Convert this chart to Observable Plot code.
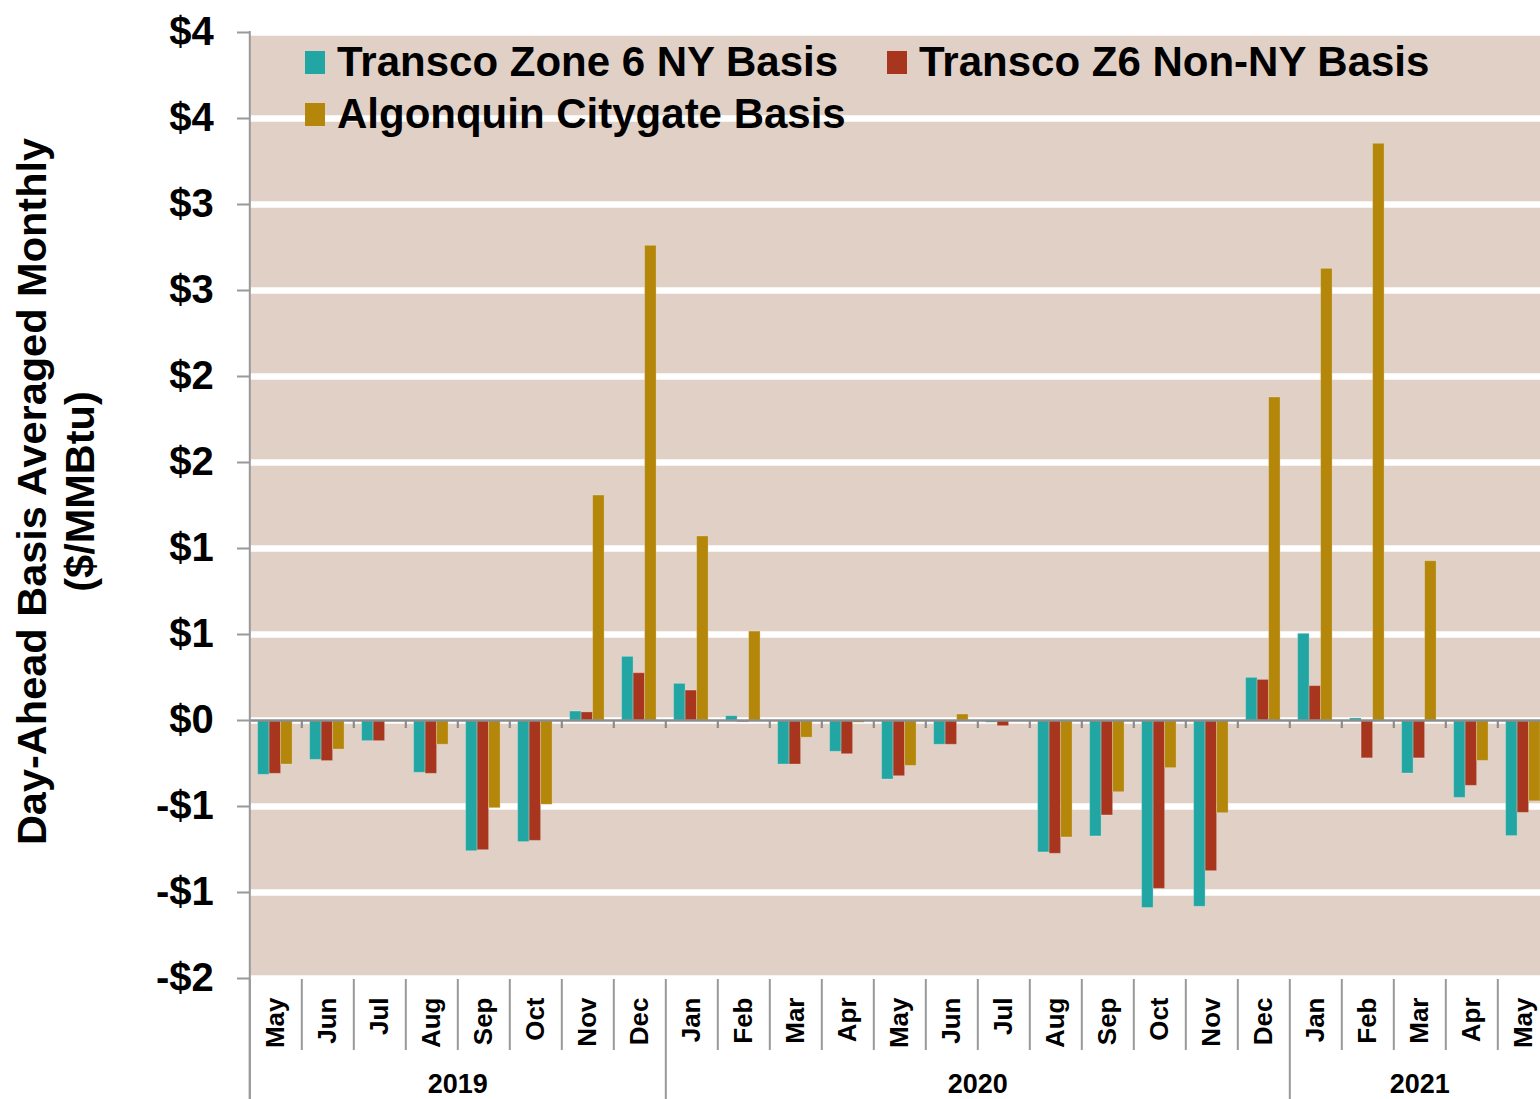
<!DOCTYPE html>
<html><head><meta charset="utf-8">
<script src="https://cdn.jsdelivr.net/npm/d3@7"></script>
<script src="https://cdn.jsdelivr.net/npm/@observablehq/plot@0.6"></script>
<style>
html,body{margin:0;padding:0;background:#fff;overflow:hidden}
#wrap{position:relative;width:1540px;height:1099px}
#wrap svg{overflow:hidden}
.legend{position:absolute;left:305px;top:36px;display:grid;grid-template-columns:582px auto;grid-auto-rows:52px;font-family:"Liberation Sans",Arial,sans-serif;font-weight:bold;font-size:42px;color:#000}
.item{display:flex;align-items:center;white-space:nowrap}
.sw{width:20px;height:23px;margin-right:12px;flex:none}
</style></head><body><div id="wrap"></div>
<script>
const months = ["May","Jun","Jul","Aug","Sep","Oct","Nov","Dec",
  "Jan","Feb","Mar","Apr","May","Jun","Jul","Aug","Sep","Oct","Nov","Dec",
  "Jan","Feb","Mar","Apr","May"];
const monthYears = [2019,2019,2019,2019,2019,2019,2019,2019,
  2020,2020,2020,2020,2020,2020,2020,2020,2020,2020,2020,2020,
  2021,2021,2021,2021,2021];
const seriesNames = ["Transco Zone 6 NY Basis","Transco Z6 Non-NY Basis","Algonquin Citygate Basis"];
const seriesColors = ["#21A6A3","#A8361F","#B4870B"];
const transcoNY = [-0.316,-0.229,-0.12,-0.304,-0.76,-0.707,0.052,0.37,
  0.213,0.025,-0.256,-0.182,-0.343,-0.141,-0.013,-0.767,-0.674,-1.09,-1.083,0.248,
  0.504,0.012,-0.308,-0.45,-0.672];
const transcoNonNY = [-0.31,-0.236,-0.12,-0.31,-0.754,-0.70,0.047,0.275,
  0.174,-0.01,-0.256,-0.196,-0.324,-0.141,-0.033,-0.775,-0.552,-0.979,-0.876,0.236,
  0.20,-0.22,-0.22,-0.38,-0.537];
const algonquin = [-0.256,-0.169,0,-0.141,-0.51,-0.49,1.308,2.76,
  1.07,0.517,-0.10,-0.013,-0.264,0.035,-0.005,-0.68,-0.417,-0.277,-0.539,1.878,
  2.626,3.353,0.926,-0.235,-0.47];
const yTicks = [-1.5,-1,-0.5,0,0.5,1,1.5,2,2.5,3,3.5,4];
const yTitle = "Day-Ahead Basis Averaged Monthly\n($/MMBtu)";

// layout
const W = 1540, H = 1099, LEFT = 249.3, SLOT = 52, TOP = 32, BOTTOM = 978;
const BAR = 11.5, PADL = 8.3;
const FONT = '"Liberation Sans", Arial, Helvetica, sans-serif';
const GRAY = "#999";
const yInv = d3.scaleLinear([BOTTOM, TOP], [-1.5, 4]);
const xInv = p => (p - LEFT) / SLOT;
const fmt = v => (v < 0 ? "-" : "") + "$" + Math.round(Math.abs(v));

const seriesValues = [transcoNY, transcoNonNY, algonquin];
const idx = d3.range(months.length);
const bars = seriesValues.map((vals, k) => idx.map(i => ({i, value: vals[i], k})));

// year groups
const years = [];
idx.forEach(i => {
  const y = monthYears[i];
  const last = years[years.length - 1];
  if (last && last.year === y) last.end = i + 1;
  else years.push({year: y, start: i, end: i + 1});
});
const yearBounds = [...new Set(years.flatMap(g => [g.start, g.end]))];
const monthBounds = d3.range(0, months.length + 1).filter(b => !yearBounds.includes(b));

const marks = [
  Plot.frame({fill: "#E0D0C6", stroke: null}),
  Plot.ruleY(yTicks, {y: d => d, stroke: "white", strokeWidth: 6.5}),
  ...bars.map((data, k) => Plot.rectY(data, {
    x1: d => d.i, x2: d => d.i + 1, y1: 0, y2: "value",
    insetLeft: PADL + BAR * k, insetRight: SLOT - PADL - BAR * (k + 1),
    fill: seriesColors[k], stroke: "white", strokeOpacity: 0.25, strokeWidth: 1
  })),
  Plot.ruleY([0], {y: d => d, stroke: "#8c8c8c", strokeWidth: 2.5}),
  Plot.ruleX(d3.range(1, months.length + 1), {x: d => d, y1: 0, y2: yInv(728), stroke: "#8c8c8c", strokeWidth: 2.2}),
  // left axis
  Plot.ruleX([0], {x: d => d, y1: yInv(31), y2: yInv(H), stroke: GRAY, strokeWidth: 2}),
  Plot.ruleY(yTicks, {y: d => d, x1: xInv(237), x2: 0, stroke: GRAY, strokeWidth: 2}),
  Plot.text(yTicks, {y: d => d, text: fmt, frameAnchor: "left", dx: -36, textAnchor: "end",
    lineAnchor: "middle", fontSize: 40, fontWeight: "bold", fill: "#000"}),
  // category separators
  Plot.ruleX(monthBounds, {x: d => d, y1: yInv(979), y2: yInv(1050), stroke: GRAY, strokeWidth: 2}),
  Plot.ruleX(yearBounds, {x: d => d, y1: yInv(979), y2: yInv(H), stroke: GRAY, strokeWidth: 2}),
  Plot.text(idx, {x: i => i + 0.5, text: i => months[i], frameAnchor: "bottom", dy: 19,
    rotate: -90, textAnchor: "end", lineAnchor: "middle", fontSize: 26, fontWeight: "bold", fill: "#000"}),
  Plot.text(years, {x: g => (g.start + g.end) / 2, text: g => String(g.year), frameAnchor: "bottom",
    dy: 106, lineAnchor: "middle", fontSize: 27, fontWeight: "bold", fill: "#000"}),
  Plot.text([yTitle], {text: d => d, frameAnchor: "left", dx: 54 - LEFT, dy: 491 - (TOP + BOTTOM) / 2,
    rotate: -90, textAnchor: "middle", lineAnchor: "middle", lineHeight: 1.15, fontSize: 41.5, fontWeight: "bold", fill: "#000"})
];

const chart = Plot.plot({
  width: W, height: H,
  marginLeft: LEFT, marginRight: 0, marginTop: TOP, marginBottom: H - BOTTOM,
  x: {type: "linear", domain: [0, months.length], range: [LEFT, LEFT + months.length * SLOT], axis: null},
  y: {domain: [-1.5, 4], range: [BOTTOM, TOP], axis: null},
  style: {fontFamily: FONT, background: "white", overflow: "hidden", maxWidth: "none"},
  marks
});
const wrap = document.getElementById("wrap");
wrap.appendChild(chart);

// legend
const legend = document.createElement("div");
legend.className = "legend";
seriesNames.forEach((name, k) => {
  const item = document.createElement("div");
  item.className = "item";
  const sw = document.createElement("span");
  sw.className = "sw";
  sw.style.background = seriesColors[k];
  const t = document.createElement("span");
  t.textContent = name;
  item.appendChild(sw); item.appendChild(t);
  legend.appendChild(item);
});
wrap.appendChild(legend);
</script></body></html>
